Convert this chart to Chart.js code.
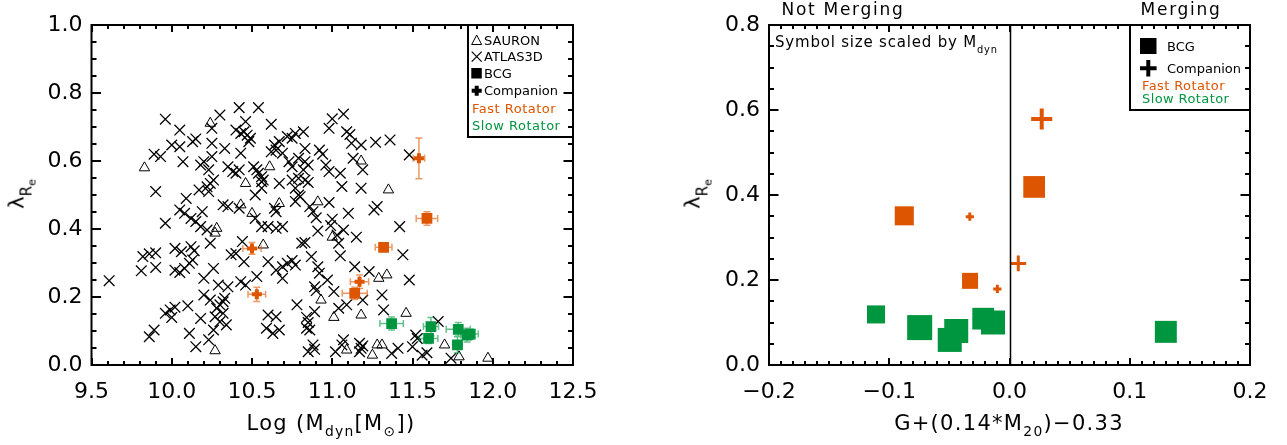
<!DOCTYPE html>
<html>
<head>
<meta charset="utf-8">
<script src="https://cdn.jsdelivr.net/npm/chart.js@4.4.0/dist/chart.umd.min.js"></script>
<style>
  body { margin: 0; background: #fff; }
  #wrap { position: relative; width: 1287px; height: 445px; overflow: hidden; font-family: 'DejaVu Sans', sans-serif; color: #000; }
  canvas { position: absolute; top: 0; }
  .txt { position: absolute; white-space: nowrap; line-height: 1; }
  .txt sub { font-size: 0.66em; vertical-align: -6px; line-height: 0; }
  .box { position: absolute; border-left: 2px solid #000; border-bottom: 2px solid #000; box-sizing: border-box; }
  .fast { color: #dd5500; }
  .slow { color: #009640; }
</style>
</head>
<body>
<div id="wrap">
  <canvas id="leftChart" width="620" height="445" style="left:0"></canvas>
  <canvas id="rightChart" width="647" height="445" style="left:640px"></canvas>

  <!-- axis titles -->
  <div class="txt" style="left:22px; top:194px; font-size:21px; transform:translate(-50%,-50%) rotate(-90deg)">λ<span style="font-size:15px; vertical-align:-8px">R<span style="font-size:11px; vertical-align:-4px">e</span></span></div>
  <div class="txt" style="left:698px; top:194px; font-size:21px; transform:translate(-50%,-50%) rotate(-90deg)">λ<span style="font-size:15px; vertical-align:-8px">R<span style="font-size:11px; vertical-align:-4px">e</span></span></div>
  <div class="txt" style="left:331px; top:413px; font-size:21px; letter-spacing:1.3px; transform:translateX(-50%)">Log (M<sub>dyn</sub>[M<sub>⊙</sub>])</div>
  <div class="txt" style="left:1009px; top:413px; font-size:21px; letter-spacing:1.3px; transform:translateX(-50%)">G+(0.14*M<sub>20</sub>)−0.33</div>

  <!-- right panel annotations -->
  <div class="txt" style="left:843px; top:1px; font-size:17px; letter-spacing:1.7px; transform:translateX(-50%)">Not Merging</div>
  <div class="txt" style="left:1181px; top:1px; font-size:17px; letter-spacing:1.7px; transform:translateX(-50%)">Merging</div>
  <div class="txt" style="left:775px; top:35px; font-size:15px; letter-spacing:0.8px">Symbol size scaled by M<sub>dyn</sub></div>

  <!-- left legend -->
  <div class="box" style="left:467px; top:25px; width:107px; height:113px"></div>
  <div class="txt" style="left:484px; top:34px; font-size:13px">SAURON</div>
  <div class="txt" style="left:484px; top:50px; font-size:13px">ATLAS3D</div>
  <div class="txt" style="left:484px; top:67px; font-size:13px">BCG</div>
  <div class="txt" style="left:484px; top:84px; font-size:13px">Companion</div>
  <div class="txt fast" style="left:472px; top:102px; font-size:13px; letter-spacing:0.5px">Fast Rotator</div>
  <div class="txt slow" style="left:472px; top:119px; font-size:13px; letter-spacing:0.5px">Slow Rotator</div>

  <!-- right legend -->
  <div class="box" style="left:1129px; top:25px; width:122px; height:86px"></div>
  <div class="txt" style="left:1167px; top:40px; font-size:13px">BCG</div>
  <div class="txt" style="left:1167px; top:62px; font-size:13px">Companion</div>
  <div class="txt fast" style="left:1142px; top:79px; font-size:13px; letter-spacing:0.4px">Fast Rotator</div>
  <div class="txt slow" style="left:1142px; top:92px; font-size:13px; letter-spacing:0.4px">Slow Rotator</div>

  <svg width="1287" height="445" style="position:absolute; left:0; top:0; pointer-events:none">
    <polygon points="476.7,35 471.7,44.5 481.7,44.5" fill="none" stroke="#000" stroke-width="1"/>
    <path d="M471.7,51.7 L481.7,61.7 M481.7,51.7 L471.7,61.7" stroke="#000" stroke-width="1.2"/>
    <rect x="471.3" y="68" width="10.5" height="10.5" fill="#000"/>
    <path d="M471.7,90.7 L481.7,90.7 M476.7,85.7 L476.7,95.7" stroke="#000" stroke-width="4"/>
    <rect x="1140" y="38" width="16.5" height="16" fill="#000"/>
    <path d="M1140,68.3 L1156.6,68.3 M1148.3,60 L1148.3,76.6" stroke="#000" stroke-width="4"/>
  </svg>
</div>

<script>
// --- Left panel: log(Mdyn) vs lambda_Re ---

// SAURON (open triangles)
const sauronLogM = [9.83, 10.24, 10.46, 10.61, 10.43, 10.50, 10.67, 10.28, 10.27, 11.18, 11.35, 10.91, 10.27, 10.57,
  11.00, 11.29, 11.34, 10.93, 11.01, 11.18, 11.46, 11.09, 11.25, 11.28, 11.31, 11.70, 11.79, 11.97];
const sauronLambda = [0.580, 0.711, 0.534, 0.583, 0.471, 0.446, 0.475, 0.402, 0.388, 0.600, 0.515, 0.480, 0.042, 0.353,
  0.376, 0.255, 0.265, 0.191, 0.140, 0.147, 0.152, 0.044, 0.029, 0.059, 0.059, 0.059, 0.024, 0.020];

// ATLAS3D (crosses)
const atlasLogM = [
  10.42, 10.54, 10.30, 9.96, 10.46, 10.62, 10.25, 10.05, 10.40, 10.43, 10.45, 10.47, 10.49, 10.48, 10.77, 10.72, 10.75,
  10.00, 10.05, 10.13, 10.15, 10.25, 10.64, 10.67, 10.62, 10.65, 10.69, 10.33, 10.43, 9.89, 9.93, 10.07, 10.79, 10.73,
  10.75, 10.18, 10.20, 10.23, 10.25, 10.35, 10.38, 10.40, 10.42, 10.51, 10.53, 10.54, 10.56, 10.57, 9.90, 10.24, 10.26,
  10.17, 10.23, 10.22, 10.56, 10.56, 10.52, 10.67, 10.75, 10.79, 10.77, 10.79, 10.82, 10.09, 10.05, 10.08, 10.12, 10.15,
  10.19, 10.18, 10.22, 10.32, 10.35, 10.42, 10.52, 10.64, 10.65, 10.77, 10.80, 9.96, 10.56, 10.60, 10.65, 10.69,
  11.07, 11.00, 10.98, 11.09, 11.11, 10.82, 11.12, 11.18, 11.27, 11.36, 10.83, 10.92, 10.94, 11.13, 11.19, 10.83, 10.85,
  10.96, 10.98, 11.05, 10.83, 10.85, 11.06, 11.18, 11.48, 10.98, 10.86, 10.88, 10.90, 11.00, 10.99, 11.10, 11.26, 11.28,
  11.42, 11.07, 10.91,
  9.61, 9.82, 9.86, 9.90, 9.81, 9.90, 10.02, 10.06, 10.12, 10.14, 10.02, 10.05, 10.08, 10.11, 10.13, 10.24, 10.20, 10.26,
  10.29, 10.35, 10.37, 10.40, 10.44, 10.45, 10.43, 10.46, 10.53, 10.60, 10.65, 10.69, 10.72, 10.75, 10.77, 10.69, 10.81,
  9.96, 9.99, 10.02, 10.00, 10.10, 9.89, 9.86, 10.18, 10.20, 10.24, 10.28, 10.30, 10.32, 10.33, 10.27, 10.30, 10.34,
  10.32, 10.11, 10.15, 10.23, 10.26, 10.60, 10.65, 10.59, 10.63, 10.67, 10.78,
  10.83, 11.03, 11.04, 11.15, 10.87, 11.05, 10.91, 10.92, 10.97, 11.14, 11.23, 11.48, 11.44, 10.89, 10.90, 11.01, 11.04,
  11.09, 11.19, 11.31, 11.32, 10.89, 10.84, 10.85, 10.86, 10.84, 10.88, 10.89, 10.85, 11.07, 11.06, 11.17, 11.18, 11.19,
  11.17, 11.02, 11.37, 11.41, 11.52, 11.53, 11.50, 11.56, 11.59, 11.66, 11.74
];
const atlasLambda = [
  0.757, 0.757, 0.735, 0.723, 0.716, 0.708, 0.696, 0.691, 0.691, 0.681, 0.686, 0.676, 0.667, 0.657, 0.681, 0.672, 0.667,
  0.647, 0.642, 0.657, 0.665, 0.652, 0.647, 0.657, 0.627, 0.632, 0.623, 0.637, 0.623, 0.620, 0.613, 0.598, 0.608, 0.598,
  0.583, 0.588, 0.598, 0.574, 0.613, 0.583, 0.569, 0.564, 0.574, 0.583, 0.574, 0.564, 0.554, 0.544, 0.510, 0.534, 0.544,
  0.515, 0.510, 0.524, 0.539, 0.520, 0.500, 0.534, 0.544, 0.549, 0.520, 0.500, 0.574, 0.490, 0.456, 0.446, 0.431, 0.422,
  0.451, 0.407, 0.397, 0.471, 0.466, 0.461, 0.431, 0.461, 0.451, 0.481, 0.495, 0.417, 0.407, 0.407, 0.402, 0.407,
  0.738, 0.724, 0.696, 0.686, 0.678, 0.686, 0.652, 0.647, 0.655, 0.662, 0.637, 0.632, 0.620, 0.608, 0.574, 0.598, 0.588,
  0.588, 0.569, 0.564, 0.544, 0.537, 0.525, 0.520, 0.618, 0.478, 0.466, 0.451, 0.433, 0.429, 0.410, 0.446, 0.456, 0.466,
  0.407, 0.397, 0.394,
  0.248, 0.319, 0.327, 0.330, 0.277, 0.287, 0.343, 0.333, 0.348, 0.336, 0.279, 0.272, 0.284, 0.299, 0.309, 0.358, 0.255, 0.284,
  0.235, 0.230, 0.324, 0.328, 0.363, 0.304, 0.245, 0.235, 0.260, 0.304, 0.279, 0.289, 0.299, 0.307, 0.294, 0.255, 0.358,
  0.152, 0.162, 0.170, 0.140, 0.174, 0.103, 0.083, 0.137, 0.206, 0.191, 0.167, 0.177, 0.186, 0.196, 0.142, 0.127, 0.118,
  0.152, 0.093, 0.054, 0.074, 0.103, 0.147, 0.142, 0.108, 0.093, 0.103, 0.177,
  0.360, 0.382, 0.358, 0.376, 0.319, 0.321, 0.289, 0.270, 0.250, 0.289, 0.275, 0.250, 0.324, 0.230, 0.219, 0.216, 0.167,
  0.177, 0.191, 0.206, 0.162, 0.157, 0.140, 0.125, 0.103, 0.108, 0.059, 0.046, 0.039, 0.074, 0.059, 0.064, 0.049, 0.056,
  0.039, 0.039, 0.034, 0.049, 0.088, 0.078, 0.054, 0.029, 0.036, 0.128, 0.020
];

// BCGs and companions, with errors
const bcgFastLogM = [11.59, 11.32, 11.14];
const bcgFastLambda = [0.431, 0.346, 0.211];
const bcgFastErrM = [0.067, 0.052, 0.078];
const bcgFastErrL = [0.020, 0.010, 0.018];

const bcgSlowLogM = [11.37, 11.615, 11.60, 11.785, 11.84, 11.86, 11.78];
const bcgSlowLambda = [0.122, 0.113, 0.078, 0.105, 0.088, 0.091, 0.059];
const bcgSlowErrM = [0.073, 0.047, 0.058, 0.075, 0.040, 0.050, 0.030];
const bcgSlowErrL = [0.019, 0.027, 0.015, 0.020, 0.020, 0.015, 0.024];

const compFastLogM = [11.54, 10.50, 10.53, 11.17];
const compFastLambda = [0.608, 0.343, 0.208, 0.245];
const compFastErrM = [0.036, 0.057, 0.055, 0.057];
const compFastErrL = [0.060, 0.017, 0.021, 0.020];

// --- Right panel: G + 0.14*M20 - 0.33 vs lambda_Re (symbol size ~ Mdyn) ---
const rBcgFastGM = [-0.0875, -0.0328, 0.0205];
const rBcgFastLambda = [0.351, 0.198, 0.419];
const rBcgFastLogM = [11.38, 11.14, 11.59];

const rBcgSlowGM = [-0.111, -0.0747, -0.0497, -0.0443, -0.0219, -0.0137, 0.130];
const rBcgSlowLambda = [0.119, 0.088, 0.059, 0.080, 0.109, 0.100, 0.078];
const rBcgSlowLogM = [11.30, 11.85, 11.77, 11.77, 11.59, 11.77, 11.61];

const rCompFastGM = [0.0268, -0.033, -0.0101, 0.0073];
const rCompFastLambda = [0.579, 0.349, 0.179, 0.239];
const rCompFastLogM = [11.54, 10.53, 10.53, 11.12];

// Axis ranges / ticks
const leftXTicks = { min: 9.5, max: 12.5, major: 0.5, minor: 0.1 };
const leftYTicks = { min: 0, max: 1.0, major: 0.2, minor: 0.05 };
const rightXTicks = { min: -0.2, max: 0.2, major: 0.1, minor: 0.01 };
const rightYTicks = { min: 0, max: 0.8, major: 0.2, minor: 0.05 };

const ORANGE = '#dd5500';
const GREEN = '#009640';

Chart.defaults.font.family = "'DejaVu Sans', sans-serif";

// --- Helpers ---

const zip = (xs, ys) => xs.map((x, i) => ({ x, y: ys[i] }));
const fmt = v => Math.abs(v) < 1e-9 ? '0.0' : v.toFixed(1).replace('-', '\u2212');
// symbol side in px, scaled by log Mdyn
const symSide = m => 12.7 * (m - 9.88);

function makeAxis(t, isX, fitSize) {
	return {
		type: 'linear',
		min: t.min,
		max: t.max,
		border: { display: false },
		grid: { display: false, drawTicks: false },
		ticks: {
			stepSize: t.major,
			autoSkip: false,
			maxRotation: 0,
			color: '#000',
			font: { size: 22 },
			padding: isX ? 14 : 9,
			callback: fmt
		},
		afterFit: scale => {
			if (isX) scale.height = fitSize;
			else scale.width = fitSize;
		}
	};
}

// list of tick positions along one axis, flagged major/minor
function tickMarks(t) {
	const n = Math.round((t.max - t.min) / t.minor);
	const out = [];
	for (let i = 0; i <= n; i++) {
		const v = t.min + i * t.minor;
		const r = v / t.major;
		out.push({ v, major: Math.abs(r - Math.round(r)) < 1e-6 });
	}
	return out;
}

// IDL style frame: box plus inward major/minor ticks on all four sides
function idlFrame(xt, yt, vline) {
	return {
		id: 'idlFrame',
		afterDraw(chart) {
			const { ctx, chartArea: a } = chart;
			const x = chart.scales.x, y = chart.scales.y;
			ctx.save();
			ctx.strokeStyle = '#000';
			ctx.lineWidth = 2;
			ctx.beginPath();
			tickMarks(xt).forEach(m => {
				const px = Math.round(x.getPixelForValue(m.v));
				const len = m.major ? 7 : 4;
				ctx.moveTo(px, a.bottom); ctx.lineTo(px, a.bottom - len);
				ctx.moveTo(px, a.top); ctx.lineTo(px, a.top + len);
			});
			tickMarks(yt).forEach(m => {
				const py = Math.round(y.getPixelForValue(m.v));
				const len = m.major ? 9.5 : 5;
				ctx.moveTo(a.left, py); ctx.lineTo(a.left + len, py);
				ctx.moveTo(a.right, py); ctx.lineTo(a.right - len, py);
			});
			ctx.stroke();
			if (vline !== undefined) {
				const px = Math.round(x.getPixelForValue(vline)) + 0.5;
				ctx.lineWidth = 1.5;
				ctx.beginPath();
				ctx.moveTo(px, a.top); ctx.lineTo(px, a.bottom);
				ctx.stroke();
			}
			ctx.lineWidth = 2;
			ctx.strokeRect(a.left, a.top, a.width, a.height);
			ctx.restore();
		}
	};
}

// Error bars drawn just under each dataset's own symbols
const errorBars = {
	id: 'errorBars',
	beforeDatasetDraw(chart, args) {
		const ds = chart.data.datasets[args.index];
		if (!ds.xErr) return;
		const { ctx } = chart;
		const x = chart.scales.x, y = chart.scales.y;
		const cap = 3.5;
		ctx.save();
		ctx.strokeStyle = ds.errColor;
		ctx.lineWidth = 1.5;
		ctx.beginPath();
		ds.data.forEach((p, i) => {
			const cx = x.getPixelForValue(p.x), cy = y.getPixelForValue(p.y);
			const x0 = x.getPixelForValue(p.x - ds.xErr[i]), x1 = x.getPixelForValue(p.x + ds.xErr[i]);
			const y0 = y.getPixelForValue(p.y - ds.yErr[i]), y1 = y.getPixelForValue(p.y + ds.yErr[i]);
			ctx.moveTo(x0, cy); ctx.lineTo(x1, cy);
			ctx.moveTo(x0, cy - cap); ctx.lineTo(x0, cy + cap);
			ctx.moveTo(x1, cy - cap); ctx.lineTo(x1, cy + cap);
			ctx.moveTo(cx, y0); ctx.lineTo(cx, y1);
			ctx.moveTo(cx - cap, y0); ctx.lineTo(cx + cap, y0);
			ctx.moveTo(cx - cap, y1); ctx.lineTo(cx + cap, y1);
		});
		ctx.stroke();
		ctx.restore();
	}
};

const baseOptions = (padRight, xt, yt, yWidth) => ({
	responsive: false,
	animation: false,
	devicePixelRatio: 1,
	events: [],
	layout: { padding: { top: 25, right: padRight, left: 0, bottom: 0 } },
	scales: {
		x: makeAxis(xt, true, 80),
		y: makeAxis(yt, false, yWidth)
	},
	plugins: {
		legend: { display: false },
		tooltip: { enabled: false }
	}
});

// --- Left chart ---
function renderLeftChart() {
	const ctx = document.getElementById('leftChart').getContext('2d');
	new Chart(ctx, {
		type: 'scatter',
		data: {
			datasets: [
				{
					label: 'Companion (fast)',
					data: zip(compFastLogM, compFastLambda),
					xErr: compFastErrM, yErr: compFastErrL, errColor: 'rgba(221,85,0,0.6)',
					pointStyle: 'cross', pointRadius: 5, pointBorderWidth: 4,
					borderColor: ORANGE, backgroundColor: ORANGE
				},
				{
					label: 'BCG (fast)',
					data: zip(bcgFastLogM, bcgFastLambda),
					xErr: bcgFastErrM, yErr: bcgFastErrL, errColor: 'rgba(221,85,0,0.6)',
					pointStyle: 'rect', pointRadius: 7.6, pointBorderWidth: 0,
					borderColor: ORANGE, backgroundColor: ORANGE
				},
				{
					label: 'BCG (slow)',
					data: zip(bcgSlowLogM, bcgSlowLambda),
					xErr: bcgSlowErrM, yErr: bcgSlowErrL, errColor: 'rgba(0,150,64,0.6)',
					pointStyle: 'rect', pointRadius: 7.6, pointBorderWidth: 0,
					borderColor: GREEN, backgroundColor: GREEN
				},
				{
					label: 'ATLAS3D',
					data: zip(atlasLogM, atlasLambda),
					pointStyle: 'crossRot', pointRadius: 7.5, pointBorderWidth: 1.3,
					borderColor: '#000', backgroundColor: '#000'
				},
				{
					label: 'SAURON',
					data: zip(sauronLogM, sauronLambda),
					pointStyle: 'triangle', pointRadius: 6, pointBorderWidth: 1,
					borderColor: '#000', backgroundColor: 'rgba(0,0,0,0)'
				}
			]
		},
		options: baseOptions(47, leftXTicks, leftYTicks, 91.5),
		plugins: [errorBars, idlFrame(leftXTicks, leftYTicks)]
	});
}

// --- Right chart ---
function renderRightChart() {
	const ctx = document.getElementById('rightChart').getContext('2d');
	new Chart(ctx, {
		type: 'scatter',
		data: {
			datasets: [
				{
					label: 'Companion (fast)',
					data: zip(rCompFastGM, rCompFastLambda),
					pointStyle: 'cross',
					pointRadius: c => symSide(rCompFastLogM[c.dataIndex]) / 2,
					pointBorderWidth: c => Math.max(3, 0.19 * symSide(rCompFastLogM[c.dataIndex])),
					borderColor: ORANGE, backgroundColor: ORANGE
				},
				{
					label: 'BCG (fast)',
					data: zip(rBcgFastGM, rBcgFastLambda),
					pointStyle: 'rect',
					pointRadius: c => symSide(rBcgFastLogM[c.dataIndex]) / Math.SQRT2,
					pointBorderWidth: 0,
					borderColor: ORANGE, backgroundColor: ORANGE
				},
				{
					label: 'BCG (slow)',
					data: zip(rBcgSlowGM, rBcgSlowLambda),
					pointStyle: 'rect',
					pointRadius: c => symSide(rBcgSlowLogM[c.dataIndex]) / Math.SQRT2,
					pointBorderWidth: 0,
					borderColor: GREEN, backgroundColor: GREEN
				}
			]
		},
		options: baseOptions(37, rightXTicks, rightYTicks, 129),
		plugins: [idlFrame(rightXTicks, rightYTicks, 0)]
	});
}

renderLeftChart();
renderRightChart();
</script>
</body>
</html>
